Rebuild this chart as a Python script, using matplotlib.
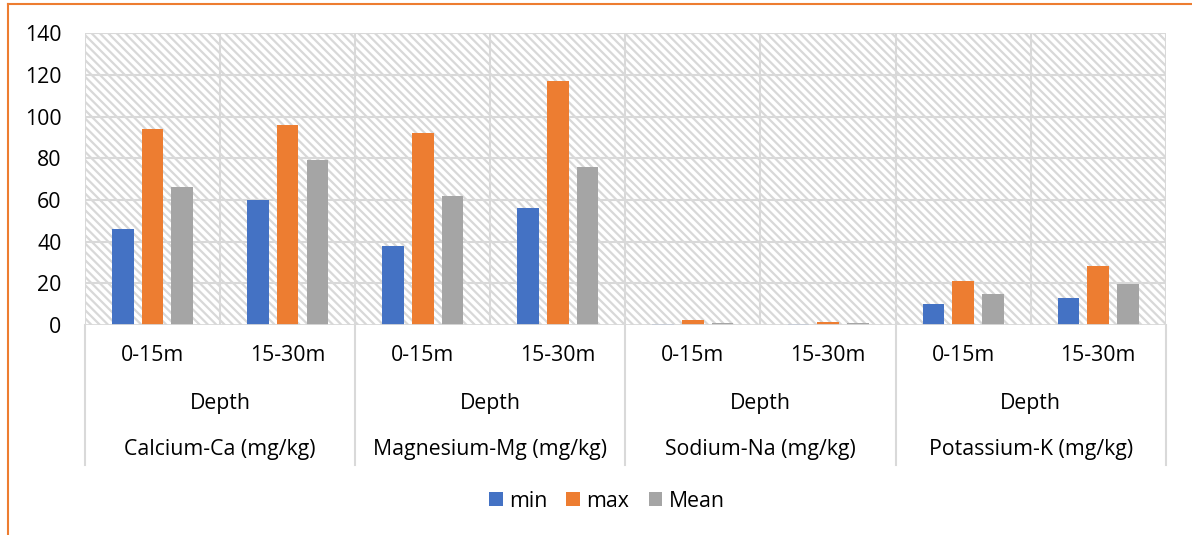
import matplotlib.pyplot as plt
import matplotlib.transforms as mtransforms
from matplotlib.patches import Rectangle, Patch
import numpy as np

plt.rcParams['font.family'] = ['Open Sans', 'DejaVu Sans']
plt.rcParams['hatch.linewidth'] = 1.6

groups = ["Calcium-Ca (mg/kg)", "Magnesium-Mg (mg/kg)", "Sodium-Na (mg/kg)", "Potassium-K (mg/kg)"]
depths = ["0-15m", "15-30m"]
series = ["min", "max", "Mean"]
colors = ["#4472C4", "#ED7D31", "#A5A5A5"]

v_min = [46, 60, 38, 56, 0.4, 0.3, 10, 13]
v_max = [94, 96, 92, 117, 2.2, 1.5, 21, 28.5]
v_mean = [66, 79, 62, 76, 1.2, 0.8, 15, 19.5]

GRID = "#d9d9d9"
FS = 15.3

fig = plt.figure(figsize=(11.92, 5.35), dpi=100)
ax = fig.add_axes([0.0713, 0.3925, 0.9067, 0.5455])

n = len(groups) * len(depths)
x = np.arange(n)
w = 0.16
step = 0.22
for i, (vals, c) in enumerate(zip([v_min, v_max, v_mean], colors)):
    ax.bar(x + (i - 1) * step, vals, width=w, color=c, zorder=3, label=series[i])

ax.set_xlim(-0.5, n - 0.5)
ax.set_ylim(0, 140)
ax.set_yticks(range(0, 141, 20))
ax.tick_params(axis="y", length=0, pad=17, labelsize=FS)
ax.set_xticks([])

# hatched plot area
ax.add_patch(Rectangle((0, 0), 1, 1, transform=ax.transAxes, facecolor="white",
                       edgecolor="#d8d8d8", hatch="\\\\\\\\", linewidth=0, zorder=0))
for yv in range(20, 141, 20):
    ax.axhline(yv, color=GRID, lw=1.5, zorder=1)
for xv in np.arange(-0.5, n, 1.0):
    ax.axvline(xv, color=GRID, lw=1.5, zorder=1)
for s in ax.spines.values():
    s.set_visible(False)
ax.axhline(0, color=GRID, lw=2, zorder=4)

# multi-level category labels
tr = mtransforms.blended_transform_factory(ax.transData, ax.transAxes)
for xv in np.arange(-0.5, n, 2.0):
    ax.plot([xv, xv], [0, -0.48], color=GRID, lw=1.5, transform=tr, clip_on=False)
for i in range(n):
    ax.text(i, -0.103, depths[i % 2], transform=tr, ha="center", va="center", fontsize=FS)
for g, name in enumerate(groups):
    cx = 2 * g + 0.5
    ax.text(cx, -0.27, "Depth", transform=tr, ha="center", va="center", fontsize=FS)
    ax.text(cx, -0.427, name, transform=tr, ha="center", va="center", fontsize=FS)

handles = [Patch(facecolor=c, label=s) for s, c in zip(series, colors)]
fig.legend(handles=handles, loc="center", bbox_to_anchor=(0.509, 0.063), ncol=3,
           frameon=False, fontsize=FS, handlelength=0.65, handleheight=0.65,
           handletextpad=0.3, columnspacing=0.9)

# orange chart border (top and left)
fig.lines.append(plt.Line2D([0.0067, 1.0], [0.9925, 0.9925], transform=fig.transFigure,
                            color="#ED7D31", lw=1.5))
fig.lines.append(plt.Line2D([0.0067, 0.0067], [0.0, 0.9925], transform=fig.transFigure,
                            color="#ED7D31", lw=1.5))

fig.savefig("out.png", dpi=100)
